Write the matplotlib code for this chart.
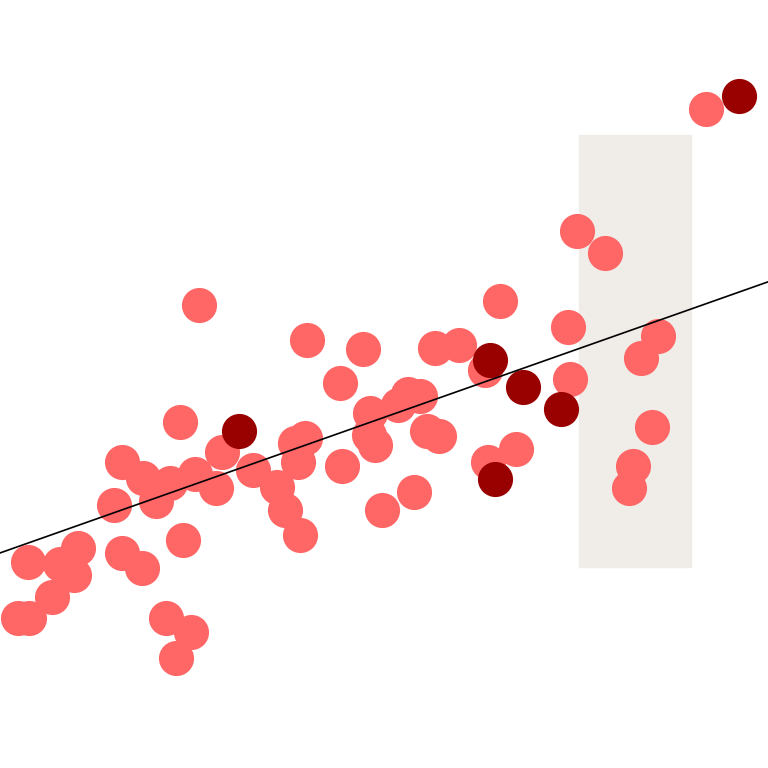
import matplotlib.pyplot as plt
from matplotlib.patches import Rectangle

# light points
x_light = [91.9, 75.1, 78.8, 25.9, 65.1, 40.0, 47.3, 74.0, 85.7, 83.5,
           56.6, 59.8, 63.2, 44.3, 74.2, 53.1, 54.7, 51.8, 48.2, 23.4,
           28.9, 38.4, 39.7, 48.0, 48.8, 55.6, 57.2, 84.9, 67.2, 63.5,
           15.9, 18.6, 22.1, 25.4, 32.9, 38.8, 44.5, 82.4, 81.9, 28.1,
           20.3, 14.8, 36.1, 37.1, 49.7, 53.9, 39.1, 23.8, 15.9, 18.5,
           10.2, 7.8, 9.6, 3.6, 6.8, 2.3, 3.8, 21.6, 24.9, 22.9]
y_light = [85.8, 69.9, 67.1, 60.3, 60.8, 55.7, 54.6, 57.4, 56.3, 53.4,
           54.7, 55.1, 51.8, 50.1, 50.7, 48.7, 48.4, 47.3, 46.2, 45.1,
           41.1, 42.3, 43.0, 43.4, 42.1, 43.9, 43.2, 44.4, 41.5, 39.8,
           39.8, 37.8, 37.1, 38.3, 38.8, 39.8, 39.3, 39.3, 36.5, 36.5,
           34.8, 34.2, 36.6, 33.6, 33.6, 35.9, 30.3, 29.7, 28.0, 26.0,
           28.6, 26.6, 25.1, 26.8, 22.3, 19.5, 19.5, 19.5, 17.7, 14.3]

# highlighted points
x_dark = [96.2, 31.1, 63.8, 68.1, 73.0, 64.5]
y_dark = [87.5, 43.9, 53.1, 49.6, 46.7, 37.6]

# trend line
intercept = 28.0
slope = 0.353

# shaded band
band_x = (75.4, 90.0)
band_y = (26.2, 82.4)

fig = plt.figure(figsize=(7.68, 7.68), dpi=100)
ax = fig.add_axes([0, 0, 1, 1])
ax.set_xlim(0, 100)
ax.set_ylim(0, 100)
ax.axis('off')

ax.add_patch(Rectangle((band_x[0], band_y[0]), band_x[1] - band_x[0],
                       band_y[1] - band_y[0], color='#f0ede8', zorder=0))

ax.scatter(x_light, y_light, s=640, color='#ff6666', linewidths=0, zorder=2)
ax.scatter(x_dark, y_dark, s=640, color='#990000', linewidths=0, zorder=3)

ax.plot([0, 100], [intercept, intercept + slope * 100], color='black',
        linewidth=1.2, zorder=4)

fig.savefig('out.png', dpi=100)
